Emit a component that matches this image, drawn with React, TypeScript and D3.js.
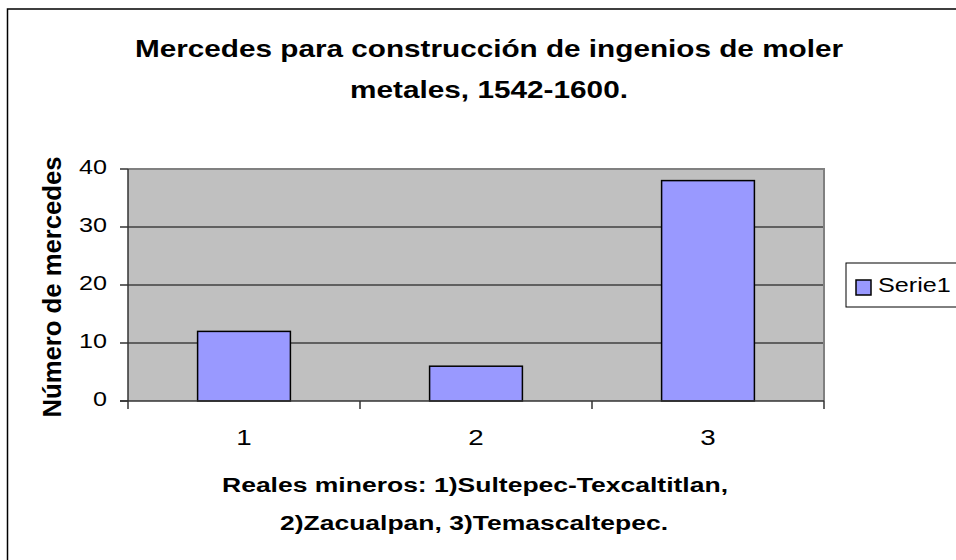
import React from "react";
import * as d3 from "d3";

const categories = ["1", "2", "3"];
const serie1 = [12, 6, 38];
const yTicks = [0, 10, 20, 30, 40];
const seriesName = "Serie1";
const titleLines = ["Mercedes para construcción de ingenios de moler", "metales, 1542-1600."];
const xTitleLines = ["Reales mineros: 1)Sultepec-Texcaltitlan,", "2)Zacualpan, 3)Temascaltepec."];
const yTitle = "Número de mercedes";

const SX = 1.29;

function T({ x, y, rot = 0, anchor = "start", size, bold = false, len, children }: any) {
  const extra = len ? { textLength: len / SX, lengthAdjust: "spacingAndGlyphs" } : {};
  return (
    <text transform={`translate(${x},${y}) scale(${SX},1) rotate(${rot})`} textAnchor={anchor}
      fontSize={size} fontWeight={bold ? "bold" : "normal"} {...extra}>{children}</text>
  );
}

export default function App() {
  const W = 956, H = 560;
  const left = 128, right = 824, top = 169, bottom = 401;
  const x = d3.scaleBand<string>().domain(categories).range([left, right]).paddingInner(0.6).paddingOuter(0.3);
  const band = d3.scaleBand<string>().domain(categories).range([left, right]);
  const y = d3.scaleLinear().domain([0, 40]).range([bottom, top]);
  const font = "'Liberation Sans', Arial, sans-serif";
  return (
    <svg width={W} height={H} style={{ position: "absolute", left: 0, top: 0, background: "#fff" }} fontFamily={font}>
      <rect x={0} y={0} width={W} height={H} fill="#fff" />
      <rect x={7.5} y={9} width={W + 10} height={H + 10} fill="none" stroke="#000" strokeWidth={1.5} />
      <T x={489} y={57} anchor="middle" size={23.5} bold len={708}>{titleLines[0]}</T>
      <T x={489} y={98} anchor="middle" size={23.5} bold len={278}>{titleLines[1]}</T>
      <rect x={left} y={top} width={right - left} height={bottom - top} fill="#c0c0c0" />
      {yTicks.filter(t => t > 0).map(t => (
        <line key={t} x1={left} x2={right} y1={y(t)} y2={y(t)} stroke="#000" strokeWidth={1} />
      ))}
      <path d={`M${left},${top}H${right}V${bottom}`} fill="none" stroke="#808080" strokeWidth={2} />
      {categories.map((c, i) => (
        <rect key={c} x={x(c)} y={y(serie1[i])} width={x.bandwidth()} height={y(0) - y(serie1[i])}
          fill="#9999ff" stroke="#000" strokeWidth={1.5} />
      ))}
      <line x1={left} x2={left} y1={top} y2={bottom + 8} stroke="#333" strokeWidth={1.5} />
      <line x1={left - 8} x2={right} y1={bottom} y2={bottom} stroke="#333" strokeWidth={1.5} />
      {yTicks.map(t => (
        <g key={t}>
          <line x1={left - 8} x2={left} y1={y(t)} y2={y(t)} stroke="#333" strokeWidth={1.5} />
          <T x={107} y={y(t) + 5} anchor="end" size={19.5}>{t}</T>
        </g>
      ))}
      {categories.map((c) => (
        <g key={c}>
          <line x1={band(c)! + band.bandwidth()} x2={band(c)! + band.bandwidth()} y1={bottom} y2={bottom + 8} stroke="#333" strokeWidth={1.5} />
          <T x={band(c)! + band.bandwidth() / 2} y={445} anchor="middle" size={21.5}>{c}</T>
        </g>
      ))}
      <T x={475} y={492} anchor="middle" size={21} bold len={506}>{xTitleLines[0]}</T>
      <T x={474} y={530} anchor="middle" size={21} bold len={388}>{xTitleLines[1]}</T>
      <text transform={`translate(61,${(top + bottom) / 2 + 2}) scale(${SX},1) rotate(-90)`} textAnchor="middle"
        fontWeight="bold" fontSize={20} textLength={261} lengthAdjust="spacingAndGlyphs">{yTitle}</text>
      <rect x={846} y={263} width={130} height={44} fill="#fff" stroke="#000" strokeWidth={1} />
      <rect x={856} y={280} width={15} height={15} fill="#9999ff" stroke="#000" strokeWidth={1.5} />
      <T x={878} y={292} size={19.5}>{seriesName}</T>
    </svg>
  );
}
